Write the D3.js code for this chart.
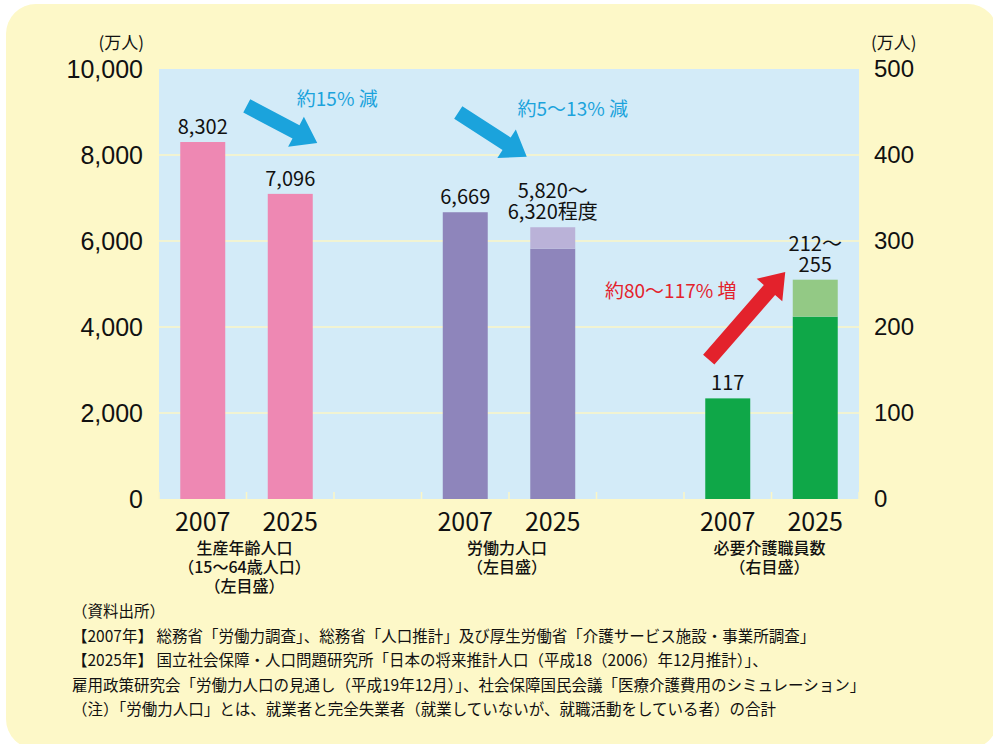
<!DOCTYPE html>
<html lang="ja">
<head>
    <meta charset="UTF-8">
    <title>生産年齢人口・労働力人口・必要介護職員数</title>
    <script src="https://cdn.jsdelivr.net/npm/d3@7"></script>
    <style>
        body { margin: 0; background: #fff; }
        svg { display: block; font-family: "Noto Sans CJK JP", "Noto Sans", sans-serif; }
    </style>
</head>
<body>
<script type="application/javascript">

    let w = 993, h = 744;
    let margin = { top: 69, right: 134, bottom: 245, left: 159 };

    // data (万人)
    let groupNames = ["生産年齢人口", "労働力人口", "必要介護職員数"];
    let groupSubs = [["（15～64歳人口）", "（左目盛）"], ["（左目盛）"], ["（右目盛）"]];
    let years = ["2007", "2025"];
    let workingAge = [8302, 7096];          // 左目盛
    let laborLow = [6669, 5820];            // 左目盛
    let laborHigh = [6669, 6320];
    let careLow = [117, 212];               // 右目盛
    let careHigh = [117, 255];
    let leftTicks = [0, 2000, 4000, 6000, 8000, 10000];
    let rightTicks = [0, 100, 200, 300, 400, 500];
    let valueLabels = [["8,302"], ["7,096"], ["6,669"], ["5,820～", "6,320程度"], ["117"], ["212～", "255"]];
    let changeLabels = ["約15% 減", "約5～13% 減", "約80～117% 増"];
    let notes = [
        "（資料出所）",
        "【2007年】 総務省「労働力調査」、総務省「人口推計」及び厚生労働省「介護サービス施設・事業所調査」",
        "【2025年】 国立社会保障・人口問題研究所「日本の将来推計人口（平成18（2006）年12月推計）」、",
        "雇用政策研究会「労働力人口の見通し（平成19年12月）」、社会保障国民会議「医療介護費用のシミュレーション」",
        "（注）「労働力人口」とは、就業者と完全失業者（就業していないが、就職活動をしている者）の合計"
    ];

    // bar table built from the arrays
    let bars = [];
    years.forEach(function(y, i) {
        bars.push({ slot: "a" + i, year: y, base: workingAge[i], top: workingAge[i], axis: "L", c1: "#ee88b3", c2: "#ee88b3", lab: valueLabels[i] });
    });
    years.forEach(function(y, i) {
        bars.push({ slot: "b" + i, year: y, base: laborLow[i], top: laborHigh[i], axis: "L", c1: "#8e85bb", c2: "#bab2d8", lab: valueLabels[2 + i] });
    });
    years.forEach(function(y, i) {
        bars.push({ slot: "c" + i, year: y, base: careLow[i], top: careHigh[i], axis: "R", c1: "#0fa748", c2: "#93c985", lab: valueLabels[4 + i] });
    });

    let iw = w - margin.left - margin.right;
    let ih = h - margin.top - margin.bottom;

    let xScale = d3.scaleBand()
        .domain(["a0", "a1", "gap1", "b0", "b1", "gap2", "c0", "c1"])
        .range([0, iw])
        .paddingInner(0.486)
        .paddingOuter(0.243);

    let yLeft = d3.scaleLinear().domain([0, 10000]).range([ih, 0]);
    let yRight = d3.scaleLinear().domain([0, 500]).range([ih, 0]);
    function yOf(d, v) { return d.axis === "L" ? yLeft(v) : yRight(v); }
    function cx(slot) { return xScale(slot) + xScale.bandwidth() / 2; }

    let svg = d3.select("body")
        .append("svg")
        .attr("width", w)
        .attr("height", h);

    // panel background
    svg.append("rect")
        .attr("x", 6).attr("y", 4)
        .attr("width", 992).attr("height", 745)
        .attr("rx", 30)
        .attr("fill", "#fdf8c8");

    let g = svg.append("g")
        .attr("transform", "translate(" + margin.left + "," + margin.top + ")");

    g.append("rect")
        .attr("width", iw).attr("height", ih)
        .attr("fill", "#d3ebf8");

    // grid lines
    g.selectAll(".grid")
        .data(leftTicks.slice(1, -1))
        .enter()
        .append("line")
        .attr("x1", 0).attr("x2", iw)
        .attr("y1", function(d) { return yLeft(d); })
        .attr("y2", function(d) { return yLeft(d); })
        .attr("stroke", "#fbf6c6")
        .attr("stroke-width", 1.5);

    // bars: lower part + range part
    g.selectAll(".bar")
        .data(bars)
        .enter()
        .append("rect")
        .attr("x", function(d) { return xScale(d.slot); })
        .attr("y", function(d) { return yOf(d, d.base); })
        .attr("width", xScale.bandwidth())
        .attr("height", function(d) { return ih - yOf(d, d.base); })
        .attr("fill", function(d) { return d.c1; });

    g.selectAll(".range")
        .data(bars.filter(function(d) { return d.top > d.base; }))
        .enter()
        .append("rect")
        .attr("x", function(d) { return xScale(d.slot); })
        .attr("y", function(d) { return yOf(d, d.top); })
        .attr("width", xScale.bandwidth())
        .attr("height", function(d) { return yOf(d, d.base) - yOf(d, d.top); })
        .attr("fill", function(d) { return d.c2; });

    // small ticks on the bottom edge between slots
    let slotEdges = d3.range(9).map(function(i) { return i * xScale.step(); });
    g.selectAll(".xtick")
        .data(slotEdges)
        .enter()
        .append("line")
        .attr("x1", function(d) { return d; }).attr("x2", function(d) { return d; })
        .attr("y1", ih - 7).attr("y2", ih)
        .attr("stroke", "#fbf6c6")
        .attr("stroke-width", 1.5);

    // value labels
    bars.forEach(function(d) {
        let t = g.append("text")
            .attr("x", cx(d.slot))
            .attr("y", yOf(d, d.top) - 8 - (d.lab.length - 1) * 21)
            .attr("text-anchor", "middle")
            .attr("font-size", 20)
            .attr("fill", "#111");
        d.lab.forEach(function(s, i) {
            t.append("tspan").attr("x", cx(d.slot)).attr("dy", i === 0 ? 0 : 21).text(s);
        });
    });

    // axes
    let axL = g.append("g")
        .call(d3.axisLeft(yLeft).tickValues(leftTicks).tickSize(0).tickPadding(16).tickFormat(d3.format(",")));
    axL.select(".domain").remove();
    axL.selectAll("text").attr("font-size", 25).attr("fill", "#111").attr("font-family", null);

    let axR = g.append("g")
        .attr("transform", "translate(" + iw + ",0)")
        .call(d3.axisRight(yRight).tickValues(rightTicks).tickSize(0).tickPadding(15));
    axR.select(".domain").remove();
    axR.selectAll("text").attr("font-size", 24).attr("fill", "#111").attr("font-family", null);

    svg.append("text").attr("x", 144).attr("y", 49).attr("text-anchor", "end")
        .attr("font-size", 17).attr("fill", "#111").text("(万人)");
    svg.append("text").attr("x", 871).attr("y", 49)
        .attr("font-size", 17).attr("fill", "#111").text("(万人)");

    // year labels
    g.selectAll(".year")
        .data(bars)
        .enter()
        .append("text")
        .attr("x", function(d) { return cx(d.slot); })
        .attr("y", ih + 32)
        .attr("text-anchor", "middle")
        .attr("font-size", 25)
        .attr("fill", "#111")
        .text(function(d) { return d.year; });

    // group labels
    let groupSlots = [["a0", "a1"], ["b0", "b1"], ["c0", "c1"]];
    groupNames.forEach(function(name, i) {
        let mx = (cx(groupSlots[i][0]) + cx(groupSlots[i][1])) / 2;
        let lines = [name].concat(groupSubs[i]);
        lines.forEach(function(s, j) {
            g.append("text")
                .attr("x", mx - 2)
                .attr("y", ih + 55 + j * 19)
                .attr("text-anchor", "middle")
                .attr("font-size", 16)
                .attr("font-weight", 500)
                .attr("fill", "#111")
                .text(s);
        });
    });

    // arrows
    function arrowPath(x0, y0, x1, y1) {
        let dx = x1 - x0, dy = y1 - y0;
        let len = Math.sqrt(dx * dx + dy * dy);
        let ux = dx / len, uy = dy / len, px = -uy, py = ux;
        let sw = 7.5, hw = 17, hl = 24;
        let bx = x1 - ux * hl, by = y1 - uy * hl;
        let pts = [
            [x0 + px * sw, y0 + py * sw],
            [bx + px * sw, by + py * sw],
            [bx + px * hw, by + py * hw],
            [x1, y1],
            [bx - px * hw, by - py * hw],
            [bx - px * sw, by - py * sw],
            [x0 - px * sw, y0 - py * sw]
        ];
        return "M" + pts.map(function(p) { return p[0] + "," + p[1]; }).join("L") + "Z";
    }

    let arrows = [
        { from: [cx("a0") + 44, yLeft(9140)], to: [cx("a1") + 27, yLeft(8280)], color: "#1ba3dc", label: changeLabels[0], lx: cx("a1") + 47, ly: yLeft(9300) },
        { from: [cx("b0") - 7, yLeft(8990)], to: [cx("b1") - 26, yLeft(7960)], color: "#1ba3dc", label: changeLabels[1], lx: cx("b1") + 20, ly: yLeft(9070) },
        { from: [cx("c0") - 19, yRight(162)], to: [cx("c1") - 30, yRight(264)], color: "#e3222c", label: changeLabels[2], lx: cx("c0") - 57, ly: yRight(242) }
    ];
    arrows.forEach(function(a) {
        g.append("path")
            .attr("d", arrowPath(a.from[0], a.from[1], a.to[0], a.to[1]))
            .attr("fill", a.color);
        g.append("text")
            .attr("x", a.lx)
            .attr("y", a.ly + 7)
            .attr("text-anchor", "middle")
            .attr("font-size", 19)
            .attr("fill", a.color)
            .text(a.label);
    });

    // source notes
    notes.forEach(function(s, i) {
        svg.append("text")
            .attr("x", 72)
            .attr("y", 617 + i * 24.5)
            .attr("font-size", 15.5)
            .attr("fill", "#111")
            .text(s);
    });

</script>
</body>
</html>
